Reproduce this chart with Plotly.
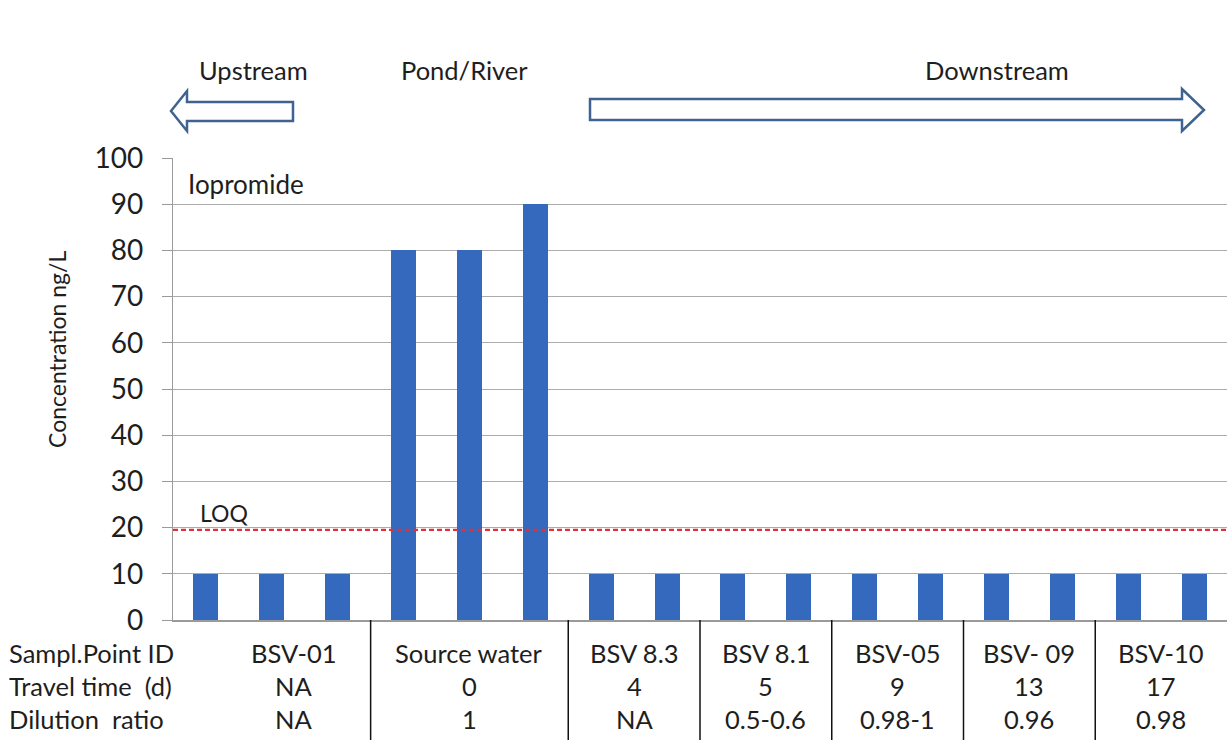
import plotly.graph_objects as go

# ---------------- data ----------------
site_ids = ["BSV-01", "Source water", "BSV 8.3", "BSV 8.1", "BSV-05", "BSV- 09", "BSV-10"]
travel_time = ["NA", "0", "4", "5", "9", "13", "17"]
dilution_ratio = ["NA", "1", "NA", "0.5-0.6", "0.98-1", "0.96", "0.98"]
replicates = [3, 3, 2, 2, 2, 2, 2]
concentration = [10, 10, 10, 80, 80, 90, 10, 10, 10, 10, 10, 10, 10, 10, 10, 10]
loq_value = 19.5
row_labels = ["Sampl.Point ID", "Travel time  (d)", "Dilution  ratio"]
y_ticks = [0, 10, 20, 30, 40, 50, 60, 70, 80, 90, 100]

# ---------------- geometry helpers ----------------
W, H = 1227, 740
L, R, T, B = 173, 0, 158, 120
PW, PH = W - L - R, H - T - B


def px(x):
    return (x - L) / PW


def py(y):
    return (H - B - y) / PH


FONT = "Lato, Carlito, 'Open Sans', sans-serif"
TXT = "#1e1e1e"
BAR = "#3569BE"
GRID = "#acacac"
ARROW = "#3f6290"

bar_x = list(range(len(concentration)))

fig = go.Figure()
fig.add_trace(go.Bar(x=bar_x, y=concentration, width=0.38,
                     marker=dict(color=BAR, line=dict(width=0)),
                     showlegend=False, hoverinfo="skip"))

n = len(concentration)
fig.update_layout(
    width=W, height=H,
    margin=dict(l=L, r=R, t=T, b=B, pad=0),
    paper_bgcolor="white", plot_bgcolor="white",
    bargap=0,
    xaxis=dict(range=[-0.5, n - 0.5], showticklabels=False, showgrid=False,
               zeroline=False, showline=True, linecolor="#9a9a9a", linewidth=1.5,
               ticks="", fixedrange=True),
    yaxis=dict(range=[0, 100], tickvals=y_ticks, showgrid=True, gridcolor=GRID,
               gridwidth=1.4, zeroline=False, showline=True, linecolor="#9a9a9a",
               linewidth=1.4, ticks="outside", ticklen=10, tickcolor="#9a9a9a",
               tickwidth=1.4, ticklabelstandoff=13,
               tickfont=dict(family=FONT, size=28, color=TXT), fixedrange=True),
    font=dict(family=FONT, color=TXT),
)

# LOQ line
fig.add_shape(type="line", xref="paper", yref="y", x0=0, x1=1, y0=loq_value, y1=loq_value,
              line=dict(color="#e0303a", width=2.4, dash="5px,3px"))

# group boundaries and centers from replicate counts
starts = []
s = 0
for r in replicates:
    starts.append(s)
    s += r
centers = [st + (r - 1) / 2 for st, r in zip(starts, replicates)]
boundaries = [st - 0.5 for st in starts[1:]]

for b in boundaries:
    fig.add_shape(type="line", xref="x", yref="paper", x0=b, x1=b, y0=0, y1=py(H),
                  line=dict(color="#111111", width=1.5))

row_y = [653, 686, 719]
rows = [site_ids, travel_time, dilution_ratio]
for ry, lab, vals in zip(row_y, row_labels, rows):
    fig.add_annotation(x=px(7), y=py(ry), xref="paper", yref="paper", text=lab,
                       showarrow=False, xanchor="left", yanchor="middle",
                       font=dict(family=FONT, size=25.5, color=TXT))
    for i, (c, v) in enumerate(zip(centers, vals)):
        fig.add_annotation(x=c, y=py(ry), xref="x", yref="paper", text=v,
                           showarrow=False, xanchor="center", yanchor="middle",
                           xshift=22 if i == 0 else 0,
                           font=dict(family=FONT, size=25.5, color=TXT))

# y axis title
fig.add_annotation(x=px(41), y=py(350), xref="paper", yref="paper",
                   text="Concentration ng/L", textangle=-90, showarrow=False,
                   font=dict(family=FONT, size=23, color=TXT))

# in-plot labels
fig.add_annotation(x=px(186), y=py(184), xref="paper", yref="paper", text="Iopromide",
                   showarrow=False, xanchor="left", yanchor="middle",
                   font=dict(family=FONT, size=26, color=TXT))
fig.add_annotation(x=px(198), y=py(513), xref="paper", yref="paper", text="LOQ",
                   showarrow=False, xanchor="left", yanchor="middle",
                   font=dict(family=FONT, size=23, color=TXT))

# top direction labels
for txt, cx in [("Upstream", 253), ("Pond/River", 464), ("Downstream", 997)]:
    fig.add_annotation(x=px(cx), y=py(70), xref="paper", yref="paper", text=txt,
                       showarrow=False, xanchor="center", yanchor="middle",
                       font=dict(family=FONT, size=25.5, color=TXT))


def arrow_path(pts):
    return "M " + " L ".join(f"{px(a):.5f},{py(b):.5f}" for a, b in pts) + " Z"


up_pts = [(171, 111), (187, 91), (187, 102), (293, 102), (293, 121), (187, 121), (187, 131)]
down_pts = [(590, 99), (1182, 99), (1182, 89), (1204, 110), (1182, 131), (1182, 120), (590, 120)]
for pts in (up_pts, down_pts):
    fig.add_shape(type="path", xref="paper", yref="paper", path=arrow_path(pts),
                  fillcolor="white", line=dict(color=ARROW, width=2.5))

fig.write_html("out.html", config={"displayModeBar": False},
               post_script="document.body.style.margin='0';")
